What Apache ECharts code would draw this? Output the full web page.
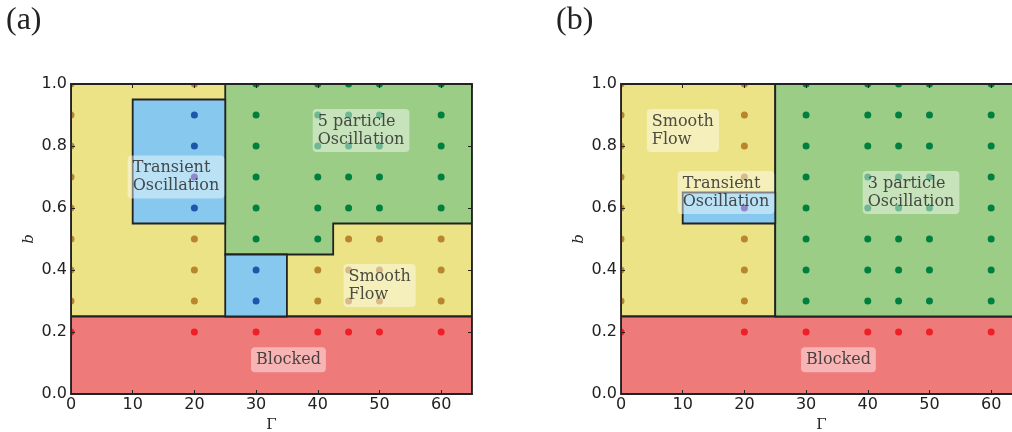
<!DOCTYPE html>
<html>
<head>
<meta charset="utf-8">
<script src="https://cdn.jsdelivr.net/npm/echarts@6/dist/echarts.min.js"></script>
<style>
  html, body { margin: 0; padding: 0; background: #fff; }
  #chart { width: 1012px; height: 432px; }
</style>
</head>
<body>
<div id="chart"></div>
<script>
// ---- axis settings ----
const gammaMin = 0, gammaMax = 65, gammaStep = 10;
const bMin = 0, bMax = 1, bStep = 0.2;
const panelTitles = ['(a)', '(b)'];

// ---- region outlines, [Γ, b] vertices ----
const smoothRegionA = [[0, 0.25], [65, 0.25], [65, 1], [0, 1]];
const blockedRegionA = [[0, 0], [65, 0], [65, 0.25], [0, 0.25]];
const transientRegionA1 = [[10, 0.55], [25, 0.55], [25, 0.95], [10, 0.95]];
const transientRegionA2 = [[25, 0.25], [35, 0.25], [35, 0.45], [25, 0.45]];
const oscRegionA = [[25, 0.45], [42.5, 0.45], [42.5, 0.55], [65, 0.55], [65, 1], [25, 1]];

const smoothRegionB = [[0, 0.25], [25, 0.25], [25, 1], [0, 1]];
const blockedRegionB = [[0, 0], [65, 0], [65, 0.25], [0, 0.25]];
const oscRegionB = [[25, 0.25], [65, 0.25], [65, 1], [25, 1]];
const transientRegionB = [[10, 0.55], [25, 0.55], [25, 0.65], [10, 0.65]];

// ---- simulation points, [Γ, b] ----
const blockedPtsA = [[0, 0.2], [20, 0.2], [30, 0.2], [40, 0.2], [45, 0.2], [50, 0.2], [60, 0.2]];
const smoothPtsA = [
  [0, 0.3], [0, 0.4], [0, 0.5], [0, 0.6], [0, 0.7], [0, 0.8], [0, 0.9], [0, 1.0],
  [20, 0.3], [20, 0.4], [20, 0.5], [20, 1.0],
  [40, 0.3], [40, 0.4],
  [45, 0.3], [45, 0.4], [45, 0.5],
  [50, 0.3], [50, 0.4], [50, 0.5],
  [60, 0.3], [60, 0.4], [60, 0.5]
];
const transientPtsA = [[20, 0.6], [20, 0.8], [20, 0.9], [30, 0.3], [30, 0.4]];
const mixedPtsA = [[20, 0.7]];
const oscPtsA = [
  [30, 0.5], [30, 0.6], [30, 0.7], [30, 0.8], [30, 0.9], [30, 1.0],
  [40, 0.5], [40, 0.6], [40, 0.7], [40, 0.8], [40, 0.9], [40, 1.0],
  [45, 0.6], [45, 0.7], [45, 0.8], [45, 0.9], [45, 1.0],
  [50, 0.6], [50, 0.7], [50, 0.8], [50, 0.9], [50, 1.0],
  [60, 0.6], [60, 0.7], [60, 0.8], [60, 0.9], [60, 1.0]
];

const blockedPtsB = [[0, 0.2], [20, 0.2], [30, 0.2], [40, 0.2], [45, 0.2], [50, 0.2], [60, 0.2]];
const smoothPtsB = [
  [0, 0.3], [0, 0.4], [0, 0.5], [0, 0.6], [0, 0.7], [0, 0.8], [0, 0.9], [0, 1.0],
  [20, 0.3], [20, 0.4], [20, 0.5], [20, 0.7], [20, 0.8], [20, 0.9], [20, 1.0]
];
const mixedPtsB = [[20, 0.6]];
const oscPtsB = [
  [30, 0.3], [30, 0.4], [30, 0.5], [30, 0.6], [30, 0.7], [30, 0.8], [30, 0.9], [30, 1.0],
  [40, 0.3], [40, 0.4], [40, 0.5], [40, 0.6], [40, 0.7], [40, 0.8], [40, 0.9], [40, 1.0],
  [45, 0.3], [45, 0.4], [45, 0.5], [45, 0.6], [45, 0.7], [45, 0.8], [45, 0.9], [45, 1.0],
  [50, 0.3], [50, 0.4], [50, 0.5], [50, 0.6], [50, 0.7], [50, 0.8], [50, 0.9], [50, 1.0],
  [60, 0.3], [60, 0.4], [60, 0.5], [60, 0.6], [60, 0.7], [60, 0.8], [60, 0.9], [60, 1.0]
];

// ---- region annotations, [Γ, b, text] (text starts at Γ, centred on b) ----
const notesA = [
  [10, 0.7, 'Transient\nOscillation'],
  [40, 0.85, '5 particle\nOscillation'],
  [45, 0.35, 'Smooth\nFlow'],
  [30, 0.11, 'Blocked']
];
const notesB = [
  [5, 0.85, 'Smooth\nFlow'],
  [10, 0.65, 'Transient\nOscillation'],
  [40, 0.65, '3 particle\nOscillation'],
  [30, 0.11, 'Blocked']
];

// ---- colours ----
const fill = { smooth: '#ece386', blocked: '#ef7a7a', transient: '#87c9ee', osc: '#9bcd87' };
const dot = { smooth: '#b8862f', blocked: '#ee1f26', transient: '#1f55ab', osc: '#00803f', mixed: '#3a2ca2' };
const ink = '#222222';

const regionsA = [
  { pts: smoothRegionA, color: fill.smooth },
  { pts: blockedRegionA, color: fill.blocked },
  { pts: oscRegionA, color: fill.osc },
  { pts: transientRegionA1, color: fill.transient },
  { pts: transientRegionA2, color: fill.transient }
];
const regionsB = [
  { pts: smoothRegionB, color: fill.smooth },
  { pts: blockedRegionB, color: fill.blocked },
  { pts: oscRegionB, color: fill.osc },
  { pts: transientRegionB, color: fill.transient }
];

const chart = echarts.init(document.getElementById('chart'), null, { renderer: 'canvas' });

const tickFont = { fontFamily: 'DejaVu Sans', fontSize: 16, color: ink };

function xAxes(gi) {
  const common = {
    gridIndex: gi, type: 'value', min: gammaMin, max: gammaMax, interval: gammaStep, z: 6,
    splitLine: { show: false },
    axisLine: { show: true, onZero: false, lineStyle: { color: ink, width: 1.8 } },
    axisTick: { show: true, inside: true, length: 4, lineStyle: { color: ink, width: 1 } }
  };
  return [
    Object.assign({}, common, {
      position: 'bottom',
      name: 'Γ', nameLocation: 'middle', nameGap: 21,
      nameTextStyle: { fontFamily: 'DejaVu Serif', fontSize: 15, color: ink },
      axisLabel: Object.assign({ margin: 3, showMaxLabel: false }, tickFont)
    }),
    Object.assign({}, common, { position: 'top', axisLabel: { show: false } })
  ];
}
function yAxes(gi) {
  const common = {
    gridIndex: gi, type: 'value', min: bMin, max: bMax, interval: bStep, z: 6,
    splitLine: { show: false },
    axisLine: { show: true, onZero: false, lineStyle: { color: ink, width: 1.8 } },
    axisTick: { show: true, inside: true, length: 4, lineStyle: { color: ink, width: 1 } }
  };
  return [
    Object.assign({}, common, {
      position: 'left',
      name: 'b', nameLocation: 'middle', nameGap: 34, nameRotate: 90,
      nameTextStyle: { fontFamily: 'DejaVu Serif', fontStyle: 'italic', fontSize: 15, color: ink },
      axisLabel: Object.assign({ margin: 4, formatter: v => v.toFixed(1) }, tickFont)
    }),
    Object.assign({}, common, { position: 'right', axisLabel: { show: false } })
  ];
}

function plotClip(params) {
  const cs = params.coordSys;
  return { type: 'rect', shape: { x: cs.x, y: cs.y, width: cs.width, height: cs.height } };
}

function regionSeries(regions, axisBase) {
  return {
    type: 'custom',
    xAxisIndex: axisBase, yAxisIndex: axisBase,
    z: 1, clip: true, silent: true,
    data: regions.map((r, i) => [i, 0]),
    renderItem: function (params, api) {
      const r = regions[params.dataIndex];
      return {
        type: 'polygon',
        shape: { points: r.pts.map(p => api.coord(p)) },
        style: { fill: r.color, stroke: ink, lineWidth: 1.8 }
      };
    }
  };
}

// simulation markers, clipped to the plotting area like the frame
function dotSeries(data, color, axisBase) {
  return {
    type: 'custom', xAxisIndex: axisBase, yAxisIndex: axisBase,
    z: 2, clip: true, silent: true,
    data: data,
    renderItem: function (params, api) {
      const c = api.coord([api.value(0), api.value(1)]);
      return {
        type: 'circle',
        shape: { cx: c[0], cy: c[1], r: 3.5 },
        style: { fill: color },
        clipPath: plotClip(params)
      };
    }
  };
}

function noteSeries(notes, axisBase) {
  return {
    type: 'scatter', xAxisIndex: axisBase, yAxisIndex: axisBase,
    z: 4, silent: true, symbolSize: 0.1,
    itemStyle: { color: 'transparent' },
    data: notes,
    label: {
      show: true,
      position: [-5, 0],
      align: 'left', verticalAlign: 'middle',
      formatter: p => p.value[2],
      fontFamily: 'DejaVu Serif', fontSize: 16, lineHeight: 18,
      color: ink,
      backgroundColor: 'rgba(255,255,255,0.55)',
      borderRadius: 4,
      padding: [4, 5, 3, 5]
    }
  };
}

const option = {
  animation: false,
  backgroundColor: '#ffffff',
  title: [
    { text: panelTitles[0], left: 6, top: 5, padding: 0,
      textStyle: { fontFamily: 'Liberation Serif', fontSize: 32, fontWeight: 'normal', color: ink } },
    { text: panelTitles[1], left: 556, top: 5, padding: 0,
      textStyle: { fontFamily: 'Liberation Serif', fontSize: 32, fontWeight: 'normal', color: ink } }
  ],
  grid: [
    { left: 71, top: 84, width: 401, height: 310, outerBoundsMode: 'none', containLabel: false },
    { left: 621, top: 84, width: 401, height: 310, outerBoundsMode: 'none', containLabel: false }
  ],
  xAxis: [].concat(xAxes(0), xAxes(1)),
  yAxis: [].concat(yAxes(0), yAxes(1)),
  series: [
    regionSeries(regionsA, 0),
    dotSeries(blockedPtsA, dot.blocked, 0),
    dotSeries(smoothPtsA, dot.smooth, 0),
    dotSeries(transientPtsA, dot.transient, 0),
    dotSeries(mixedPtsA, dot.mixed, 0),
    dotSeries(oscPtsA, dot.osc, 0),
    noteSeries(notesA, 0),

    regionSeries(regionsB, 2),
    dotSeries(blockedPtsB, dot.blocked, 2),
    dotSeries(smoothPtsB, dot.smooth, 2),
    dotSeries(mixedPtsB, dot.mixed, 2),
    dotSeries(oscPtsB, dot.osc, 2),
    noteSeries(notesB, 2)
  ]
};

chart.setOption(option);
</script>
</body>
</html>
